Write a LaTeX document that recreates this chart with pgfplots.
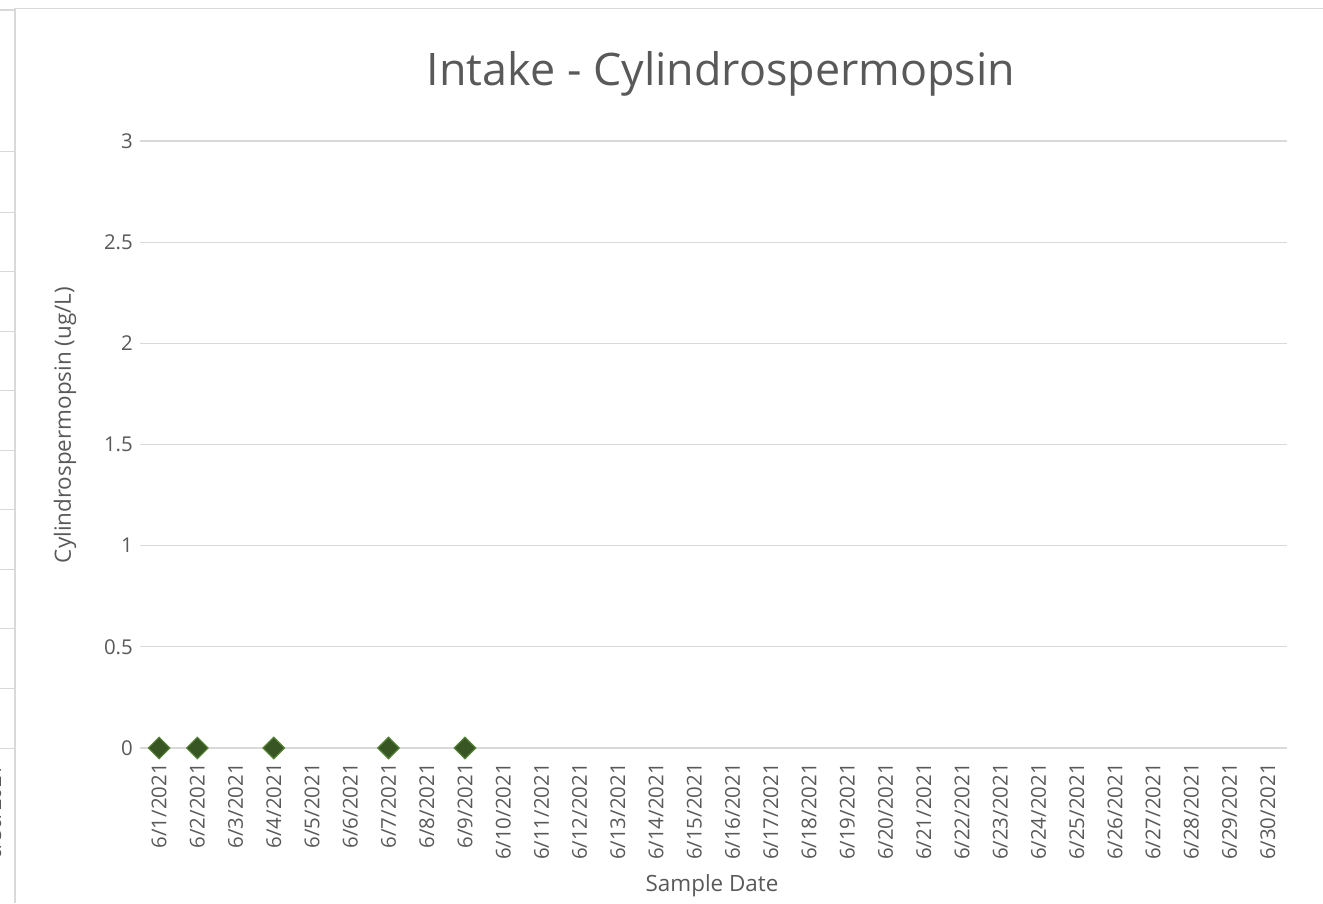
\documentclass[border=0pt]{standalone}
\usepackage{pgfplots}
\pgfplotsset{compat=1.18}
\usepackage{fontspec}
\setmainfont{Open Sans}
\definecolor{txt}{HTML}{595959}
\definecolor{grd}{HTML}{D9D9D9}
\definecolor{mfill}{HTML}{375623}
\definecolor{medge}{HTML}{548235}
\begin{document}
\begin{tikzpicture}[x=1bp,y=1bp]
\useasboundingbox (0,0) rectangle (1323,903);
% frame of the chart area and remnants of a neighbouring chart
\draw[grd, line width=1.5bp] (15,0) -- (15,894.5) -- (1323,894.5);
\draw[grd, line width=1.5bp] (0,893) -- (15,893);
\foreach \yy in {152,213,272,332,391,451,510,570,629,688,748}
  \draw[grd, line width=1bp] (0,903-\yy) -- (14,903-\yy);
\begin{scope}
\clip (0,0) rectangle (12,903);
\node[rotate=90, anchor=east, font=\fontsize{20}{24}\selectfont, text=txt, inner sep=0pt] at (-6,903-765) {6/30/2021};
\end{scope}
\begin{axis}[
  at={(140bp,155bp)}, anchor=south west,
  scale only axis, width=1147bp, height=607bp,
  xmin=0.5, xmax=30.5, ymin=0, ymax=3,
  axis line style={draw=none},
  axis x line*=bottom,
  ytick={0,0.5,1,1.5,2,2.5,3},
  yticklabels={0,0.5,1,1.5,2,2.5,3},
  xtick={1,...,30},
  xticklabels={6/1/2021,6/2/2021,6/3/2021,6/4/2021,6/5/2021,6/6/2021,6/7/2021,6/8/2021,6/9/2021,6/10/2021,6/11/2021,6/12/2021,6/13/2021,6/14/2021,6/15/2021,6/16/2021,6/17/2021,6/18/2021,6/19/2021,6/20/2021,6/21/2021,6/22/2021,6/23/2021,6/24/2021,6/25/2021,6/26/2021,6/27/2021,6/28/2021,6/29/2021,6/30/2021},
  major tick length=0pt,
  ymajorgrids, grid style={grd, line width=1.2bp},
  yticklabel style={font=\fontsize{20.5}{24}\selectfont, text=txt, inner sep=0pt, xshift=-7bp},
  xticklabel style={font=\fontsize{20.5}{24}\selectfont, text=txt, rotate=90, anchor=east, inner sep=0pt, xshift=-15bp},
  title={Intake - Cylindrospermopsin},
  title style={font=\fontsize{45}{54}\selectfont, text=txt, at={(rel axis cs:0.5065,1.1005)}, anchor=center, inner sep=0pt},
  xlabel={Sample Date},
  xlabel style={font=\fontsize{22.5}{26}\selectfont, text=txt, at={(rel axis cs:0.4987,-0.2273)}, anchor=center, inner sep=0pt},
  ylabel={Cylindrospermopsin (ug/L)},
  ylabel style={font=\fontsize{22.5}{26}\selectfont, text=txt, at={(rel axis cs:-0.0654,0.532)}, anchor=center, rotate=0, inner sep=0pt},
  clip=false,
]
\addplot[draw=grd, line width=1.2bp, forget plot] coordinates {(0.5,0) (30.5,0)};
\addplot[only marks, mark=square*, mark size=7.6bp, mark options={rotate=45, fill=mfill, draw=medge, line width=1.2bp}]
  coordinates {(1,0) (2,0) (4,0) (7,0) (9,0)};
\end{axis}
\end{tikzpicture}
\end{document}
